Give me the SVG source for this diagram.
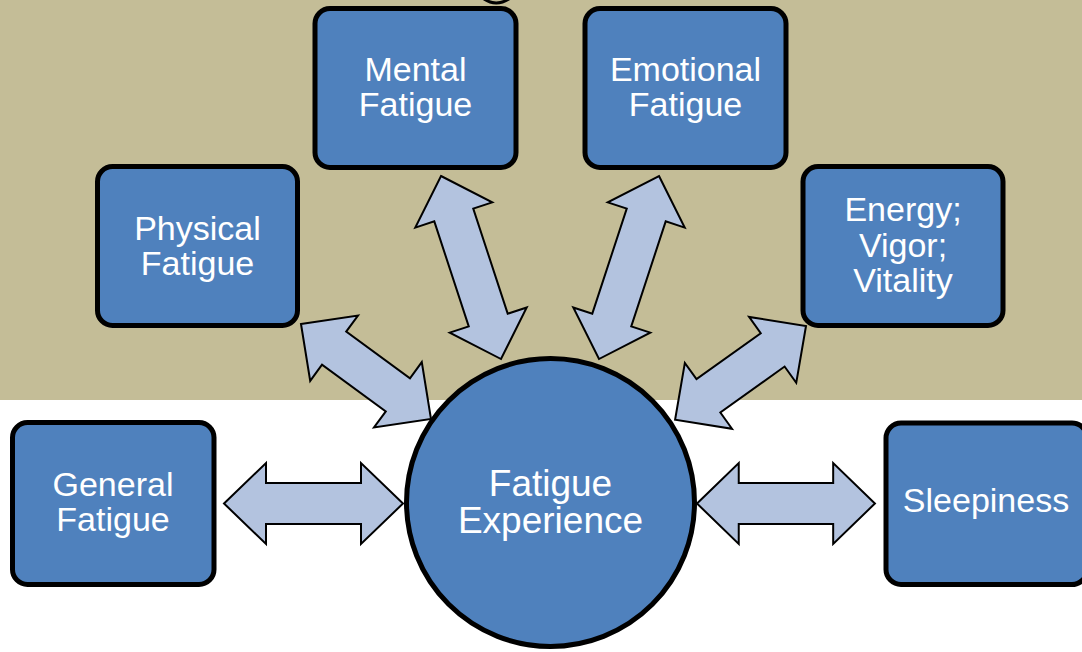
<svg xmlns="http://www.w3.org/2000/svg" width="1082" height="652" viewBox="0 0 1082 652">
  <style>
    .box { fill: #4F81BD; stroke: #000; stroke-width: 5; }
    .arrow { fill: #B3C3DF; stroke: #000; stroke-width: 2; stroke-linejoin: miter; }
    .lbl { font-family: "Liberation Sans", Arial, sans-serif; font-size: 34px; fill: #FFFFFF; text-anchor: middle; }
    .big { font-size: 37px; }
  </style>
  <defs>
    <polygon id="a161" points="0,0 41,-40.5 41,-20.5 120,-20.5 120,-40.5 161,0 120,40.5 120,20.5 41,20.5 41,40.5"/>
    <polygon id="a193" points="0,0 41,-40.5 41,-20.5 151.6,-20.5 151.6,-40.5 192.6,0 151.6,40.5 151.6,20.5 41,20.5 41,40.5"/>
    <polygon id="a179" points="0,0 42,-40.5 42,-20.5 137,-20.5 137,-40.5 179,0 137,40.5 137,20.5 42,20.5 42,40.5"/>
  </defs>
  <rect x="0" y="0" width="1082" height="400" fill="#C4BD97"/>
  <rect x="0" y="400" width="1082" height="252" fill="#FFFFFF"/>
  <path d="M484,-1 Q496,7 509,-1" fill="none" stroke="#000" stroke-width="3"/>

  <g id="connectors">
    <use href="#a193" class="arrow" transform="translate(441,176) rotate(71.85)"/>
    <use href="#a193" class="arrow" transform="translate(659,176) rotate(108.15)"/>
    <use href="#a161" class="arrow" transform="translate(301,324) rotate(36.16)"/>
    <use href="#a161" class="arrow" transform="translate(806,326) rotate(144.4)"/>
    <use href="#a179" class="arrow" transform="translate(224,503.5)"/>
    <use href="#a179" class="arrow" transform="translate(697,503.5) scale(0.994,1)"/>
  </g>

  <g id="mental">
    <rect class="box" x="315" y="8.5" width="201" height="159" rx="15"/>
    <text class="lbl" x="415.5" y="81">Mental</text>
    <text class="lbl" x="415.5" y="116">Fatigue</text>
  </g>
  <g id="emotional">
    <rect class="box" x="585" y="8.5" width="201" height="159" rx="15"/>
    <text class="lbl" x="685.5" y="81">Emotional</text>
    <text class="lbl" x="685.5" y="116">Fatigue</text>
  </g>
  <g id="physical">
    <rect class="box" x="97.5" y="166.5" width="200" height="159" rx="15"/>
    <text class="lbl" x="197.5" y="240">Physical</text>
    <text class="lbl" x="197.5" y="275">Fatigue</text>
  </g>
  <g id="energy">
    <rect class="box" x="803" y="166.5" width="200" height="159" rx="15"/>
    <text class="lbl" x="903" y="221">Energy;</text>
    <text class="lbl" x="903" y="256.5">Vigor;</text>
    <text class="lbl" x="903" y="291.5">Vitality</text>
  </g>
  <g id="general">
    <rect class="box" x="12.5" y="422.5" width="201.5" height="162" rx="15"/>
    <text class="lbl" x="113" y="496">General</text>
    <text class="lbl" x="113" y="531">Fatigue</text>
  </g>
  <g id="sleepiness">
    <rect class="box" x="886" y="423" width="201" height="161.5" rx="15"/>
    <text class="lbl" x="986" y="512">Sleepiness</text>
  </g>
  <g id="fatigue-experience">
    <circle class="box" cx="550.5" cy="502.5" r="144"/>
    <text class="lbl big" x="550.5" y="496">Fatigue</text>
    <text class="lbl big" x="550.5" y="533">Experience</text>
  </g>
</svg>
